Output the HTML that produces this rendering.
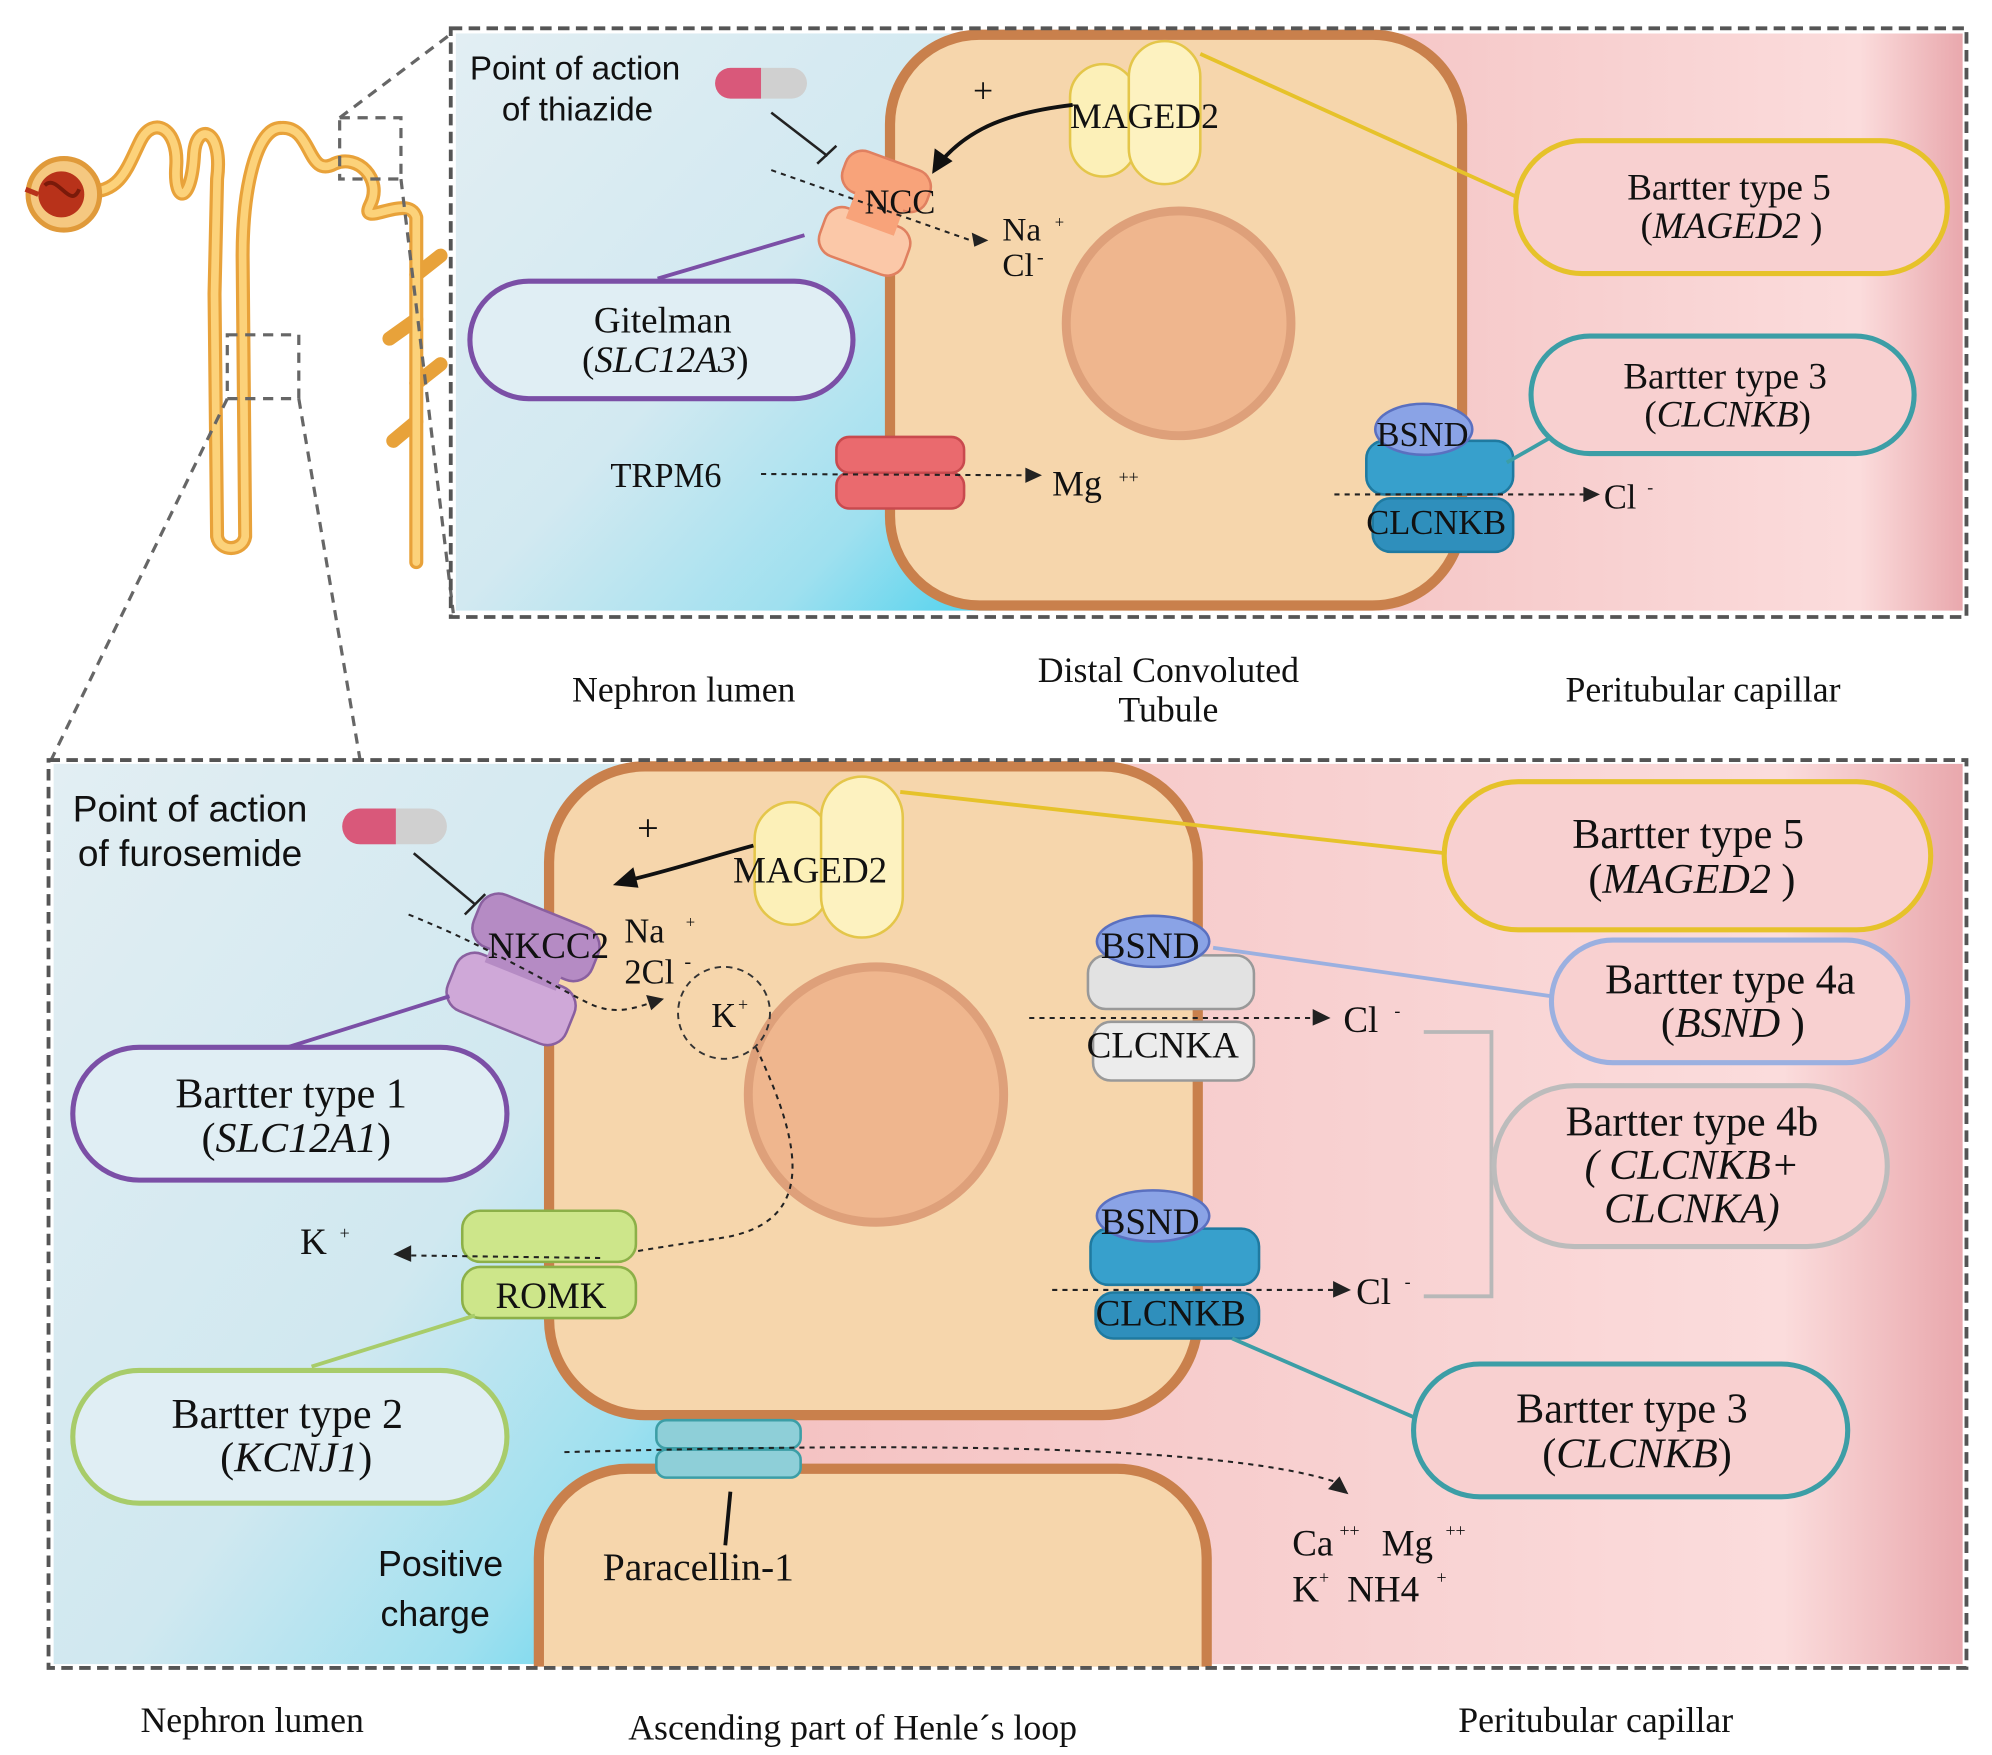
<!DOCTYPE html>
<html><head><meta charset="utf-8"><style>
html,body{margin:0;padding:0;background:#fff}
svg{display:block}
.s{font-family:"Liberation Serif",serif;fill:#111}
.a{font-family:"Liberation Sans",sans-serif;fill:#111}
</style></head><body>
<svg width="1992" height="1755" viewBox="0 0 1560 1374" xmlns="http://www.w3.org/2000/svg">
<defs>
<linearGradient id="lum1" x1="0" y1="0" x2="1" y2="1">
<stop offset="0" stop-color="#e2eef3"/><stop offset="0.5" stop-color="#d2e9f1"/><stop offset="0.8" stop-color="#9fe0ef"/><stop offset="1" stop-color="#4fd2ee"/></linearGradient>
<linearGradient id="lum2" x1="0" y1="0" x2="1" y2="1">
<stop offset="0" stop-color="#e2eef3"/><stop offset="0.55" stop-color="#d0e8f0"/><stop offset="0.8" stop-color="#9fe0ef"/><stop offset="1" stop-color="#4fd2ee"/></linearGradient>
<linearGradient id="pk" x1="0" y1="0" x2="1" y2="0">
<stop offset="0" stop-color="#f4c2c2"/><stop offset="0.85" stop-color="#fbdcdc"/><stop offset="1" stop-color="#e9a8ad"/></linearGradient>
<clipPath id="bp"><rect x="38" y="595" width="1502" height="710"/></clipPath>
</defs>

<!-- nephron -->
<g fill="none" stroke="#e8a23a" stroke-width="11" stroke-linecap="round" stroke-linejoin="round">
<path d="M70 150 C95 150 100 130 110 110 C120 90 140 100 138 130 C136 160 150 160 152 120 C154 95 175 100 170 140 L168 230 L170 420 C172 432 190 432 192 420 L190 200 C190 150 200 100 220 100 C245 98 240 140 262 128 C280 120 300 140 290 160 C280 180 320 150 326 170 L326 440"/>
<path d="M326 250 L305 265 M326 300 L345 285 M326 330 L308 345 M326 215 L345 200"/>
</g>
<g fill="none" stroke="#fcd27a" stroke-width="6" stroke-linecap="round" stroke-linejoin="round">
<path d="M70 150 C95 150 100 130 110 110 C120 90 140 100 138 130 C136 160 150 160 152 120 C154 95 175 100 170 140 L168 230 L170 420 C172 432 190 432 192 420 L190 200 C190 150 200 100 220 100 C245 98 240 140 262 128 C280 120 300 140 290 160 C280 180 320 150 326 170 L326 440"/>
</g>
<circle cx="50" cy="152" r="28" fill="#f5c880" stroke="#e09a3a" stroke-width="4"/>
<circle cx="48" cy="152" r="18" fill="#b8321a"/>
<path d="M35 145 C45 135 55 165 62 148" stroke="#7a1a0a" stroke-width="3" fill="none"/>
<line x1="20" y1="148" x2="30" y2="152" stroke="#b8321a" stroke-width="4"/>
<g fill="none" stroke="#666" stroke-width="2.5" stroke-dasharray="8 6">
<rect x="266" y="92" width="48" height="48"/>
<rect x="178" y="262" width="56" height="50"/>
<line x1="266" y1="92" x2="355" y2="25"/>
<line x1="314" y1="140" x2="355" y2="480"/>
<line x1="178" y1="312" x2="40" y2="595"/>
<line x1="234" y1="312" x2="282" y2="595"/>
</g>

<!-- TOP PANEL -->
<path d="M1000 26 H1537 V478 H1000 Z" fill="url(#pk)"/>
<rect x="357" y="26" width="420" height="452" fill="url(#lum1)"/>
<rect x="697" y="27" width="448" height="447" rx="70" fill="#f6d6ac" stroke="#c9804c" stroke-width="8"/>
<circle cx="923" cy="253" r="88" fill="#efb68e" stroke="#dea07a" stroke-width="7"/>
<rect x="353" y="22" width="1187" height="461" fill="none" stroke="#555" stroke-width="3" stroke-dasharray="9 5"/>

<text class="a" x="368" y="62" font-size="26">Point of action</text>
<text class="a" x="393" y="94" font-size="26">of thiazide</text>
<rect x="560" y="53" width="72" height="24" rx="12" fill="#d0d0d0"/>
<path d="M572 53 H596 V77 H572 A12 12 0 0 1 572 53Z" fill="#d9587a"/>
<line x1="604" y1="88" x2="648" y2="122" stroke="#222" stroke-width="2"/>
<line x1="640" y1="128" x2="655" y2="114" stroke="#222" stroke-width="2"/>

<!-- NCC -->
<g transform="rotate(20 690 168)">
<rect x="650" y="125" width="70" height="34" rx="14" fill="#f8a37a" stroke="#e08060" stroke-width="2"/>
<rect x="650" y="172" width="70" height="40" rx="14" fill="#fbc8a8" stroke="#e08060" stroke-width="2"/>
<rect x="665" y="150" width="40" height="30" fill="#f8a37a"/>
</g>
<text class="s" x="677" y="167" font-size="27">NCC</text>
<path d="M604 133 L760 188" stroke="#222" stroke-width="1.6" stroke-dasharray="4 4" fill="none"/>
<path d="M774 188 l-13 -6 l2 11z" fill="#222"/>
<text class="s" x="785" y="188" font-size="26">Na</text><text class="s" x="826" y="178" font-size="13">+</text>
<text class="s" x="785" y="216" font-size="26">Cl</text><text class="s" x="812" y="206" font-size="16">-</text>

<!-- MAGED2 top -->
<rect x="838" y="50" width="52" height="88" rx="26" fill="#fcf0b8" stroke="#e4c64a" stroke-width="2"/>
<rect x="884" y="32" width="56" height="112" rx="28" fill="#fdf2c0" stroke="#e4c64a" stroke-width="2"/>
<text class="s" x="838" y="100" font-size="28">MAGED2</text>
<text class="s" x="762" y="80" font-size="28">+</text>
<path d="M840 82 C790 88 760 100 738 125" stroke="#111" stroke-width="3" fill="none"/>
<path d="M730 136 l2 -20 l14 10z" fill="#111"/>
<line x1="940" y1="42" x2="1190" y2="155" stroke="#e6c22a" stroke-width="3"/>

<rect x="1187" y="110" width="338" height="104" rx="52" fill="#f8d0d0" stroke="#e6c22a" stroke-width="4"/>
<text class="s" x="1354" y="156" font-size="29" text-anchor="middle">Bartter type 5</text>
<text class="s" x="1356" y="186" font-size="29" text-anchor="middle">(<tspan font-style="italic">MAGED2</tspan> )</text>

<line x1="515" y1="218" x2="630" y2="184" stroke="#7b4fa6" stroke-width="3"/>
<rect x="368" y="220" width="300" height="92" rx="46" fill="#e0eef4" stroke="#7b4fa6" stroke-width="4"/>
<text class="s" x="519" y="260" font-size="29" text-anchor="middle">Gitelman</text>
<text class="s" x="521" y="291" font-size="29" text-anchor="middle">(<tspan font-style="italic">SLC12A3</tspan>)</text>

<!-- TRPM6 -->
<rect x="655" y="342" width="100" height="28" rx="10" fill="#ea6a6e" stroke="#c94a4e" stroke-width="2"/>
<rect x="655" y="370" width="100" height="28" rx="10" fill="#ea6a6e" stroke="#c94a4e" stroke-width="2"/>
<text class="s" x="478" y="381" font-size="27">TRPM6</text>
<line x1="596" y1="371" x2="804" y2="372" stroke="#222" stroke-width="1.6" stroke-dasharray="4 4"/>
<path d="M816 372 l-13 -6 v12z" fill="#222"/>
<text class="s" x="824" y="388" font-size="28">Mg</text><text class="s" x="876" y="378" font-size="14">++</text>

<!-- BSND/CLCNKB top -->
<rect x="1070" y="345" width="115" height="42" rx="14" fill="#37a0cc" stroke="#1f7aa0" stroke-width="2"/>
<rect x="1075" y="390" width="110" height="42" rx="14" fill="#2f8fbc" stroke="#1f7aa0" stroke-width="2"/>
<ellipse cx="1115" cy="336" rx="38" ry="20" fill="#8aa3e6" stroke="#5a70c0" stroke-width="2"/>
<text class="s" x="1078" y="349" font-size="27">BSND</text>
<text class="s" x="1070" y="418" font-size="27">CLCNKB</text>
<line x1="1045" y1="387" x2="1240" y2="387" stroke="#222" stroke-width="1.6" stroke-dasharray="4 4"/>
<path d="M1253 387 l-13 -6 v12z" fill="#222"/>
<text class="s" x="1256" y="398" font-size="27">Cl</text><text class="s" x="1290" y="386" font-size="14">-</text>
<line x1="1180" y1="362" x2="1215" y2="342" stroke="#3c9ea6" stroke-width="3"/>
<rect x="1199" y="263" width="300" height="92" rx="46" fill="#f8d0d0" stroke="#3c9ea6" stroke-width="4"/>
<text class="s" x="1351" y="304" font-size="29" text-anchor="middle">Bartter type 3</text>
<text class="s" x="1353" y="334" font-size="29" text-anchor="middle">(<tspan font-style="italic">CLCNKB</tspan>)</text>

<text class="s" x="448" y="549" font-size="28">Nephron lumen</text>
<text class="s" x="915" y="534" font-size="28" text-anchor="middle">Distal Convoluted</text>
<text class="s" x="915" y="565" font-size="28" text-anchor="middle">Tubule</text>
<text class="s" x="1226" y="549" font-size="28">Peritubular capillar</text>

<!-- BOTTOM PANEL -->
<g clip-path="url(#bp)">
<path d="M600 598 H1537 V1303 H600 Z" fill="url(#pk)"/>
<rect x="42" y="598" width="520" height="705" fill="url(#lum2)"/>
<rect x="430" y="600" width="508" height="508" rx="75" fill="#f6d6ac" stroke="#c9804c" stroke-width="8"/>
<path d="M422 1320 V1220 A70 70 0 0 1 492 1150 H875 A70 70 0 0 1 945 1220 V1320 Z" fill="#f6d6ac" stroke="#c9804c" stroke-width="8"/>
</g>
<circle cx="686" cy="857" r="100" fill="#efb68e" stroke="#dea07a" stroke-width="7"/>
<rect x="38" y="595" width="1502" height="711" fill="none" stroke="#555" stroke-width="3" stroke-dasharray="9 5"/>

<text class="a" x="57" y="643" font-size="29">Point of action</text>
<text class="a" x="61" y="678" font-size="29">of furosemide</text>
<rect x="268" y="633" width="82" height="28" rx="14" fill="#d0d0d0"/>
<path d="M282 633 H310 V661 H282 A14 14 0 0 1 282 633Z" fill="#d9587a"/>
<line x1="324" y1="668" x2="372" y2="708" stroke="#222" stroke-width="2"/>
<line x1="364" y1="716" x2="380" y2="700" stroke="#222" stroke-width="2"/>

<!-- NKCC2 -->
<g transform="rotate(22 410 758)">
<rect x="360" y="710" width="100" height="44" rx="16" fill="#b58bc4" stroke="#8a60a0" stroke-width="2"/>
<rect x="360" y="760" width="100" height="48" rx="16" fill="#cfa8d8" stroke="#8a60a0" stroke-width="2"/>
<rect x="380" y="745" width="60" height="20" fill="#b58bc4"/>
</g>
<text class="s" x="382" y="750" font-size="29">NKCC2</text>
<path d="M320 716 C380 740 430 770 460 785 C480 795 495 790 510 785" stroke="#222" stroke-width="1.6" stroke-dasharray="4 4" fill="none"/>
<path d="M520 782 l-14 -3 l4 12z" fill="#222"/>
<text class="s" x="489" y="738" font-size="27">Na</text><text class="s" x="537" y="726" font-size="13">+</text>
<text class="s" x="489" y="770" font-size="27">2Cl</text><text class="s" x="536" y="758" font-size="16">-</text>
<circle cx="567" cy="793" r="36" fill="none" stroke="#333" stroke-width="1.5" stroke-dasharray="5 4"/>
<text class="s" x="557" y="804" font-size="27">K</text><text class="s" x="578" y="791" font-size="14">+</text>
<path d="M592 820 C630 900 640 960 560 970 C520 976 495 980 470 985" stroke="#222" stroke-width="1.6" stroke-dasharray="4 4" fill="none"/>

<!-- MAGED2 bottom -->
<rect x="591" y="628" width="58" height="96" rx="29" fill="#fcf0b8" stroke="#e4c64a" stroke-width="2"/>
<rect x="643" y="608" width="64" height="126" rx="32" fill="#fdf2c0" stroke="#e4c64a" stroke-width="2"/>
<text class="s" x="574" y="691" font-size="29">MAGED2</text>
<text class="s" x="499" y="658" font-size="30">+</text>
<path d="M590 662 C560 670 530 680 497 688" stroke="#111" stroke-width="3" fill="none"/>
<path d="M480 693 l16 -14 l4 16z" fill="#111"/>
<line x1="705" y1="620" x2="1132" y2="668" stroke="#e6c22a" stroke-width="3"/>
<rect x="1131" y="612" width="381" height="116" rx="58" fill="#f8d0d0" stroke="#e6c22a" stroke-width="4"/>
<text class="s" x="1322" y="664" font-size="33" text-anchor="middle">Bartter type 5</text>
<text class="s" x="1325" y="699" font-size="33" text-anchor="middle">(<tspan font-style="italic">MAGED2</tspan> )</text>

<line x1="225" y1="820" x2="352" y2="780" stroke="#7b4fa6" stroke-width="3"/>
<rect x="57" y="820" width="340" height="104" rx="52" fill="#e0eef4" stroke="#7b4fa6" stroke-width="4"/>
<text class="s" x="228" y="867" font-size="33" text-anchor="middle">Bartter type 1</text>
<text class="s" x="232" y="902" font-size="33" text-anchor="middle">(<tspan font-style="italic">SLC12A1</tspan>)</text>

<!-- ROMK -->
<rect x="362" y="948" width="136" height="40" rx="14" fill="#cde68a" stroke="#8cb048" stroke-width="2"/>
<rect x="362" y="992" width="136" height="40" rx="14" fill="#cde68a" stroke="#8cb048" stroke-width="2"/>
<text class="s" x="388" y="1024" font-size="29">ROMK</text>
<line x1="470" y1="985" x2="322" y2="983" stroke="#222" stroke-width="1.6" stroke-dasharray="4 4"/>
<path d="M308 982 l14 -7 v13z" fill="#222"/>
<text class="s" x="235" y="982" font-size="29">K</text><text class="s" x="266" y="970" font-size="14">+</text>
<line x1="244" y1="1070" x2="372" y2="1030" stroke="#a8cc6a" stroke-width="3"/>
<rect x="57" y="1073" width="340" height="104" rx="52" fill="#e0eef4" stroke="#a8cc6a" stroke-width="4"/>
<text class="s" x="225" y="1118" font-size="33" text-anchor="middle">Bartter type 2</text>
<text class="s" x="232" y="1152" font-size="33" text-anchor="middle">(<tspan font-style="italic">KCNJ1</tspan>)</text>

<!-- CLCNKA -->
<rect x="852" y="748" width="130" height="42" rx="14" fill="#e2e2e2" stroke="#999" stroke-width="2"/>
<rect x="856" y="800" width="126" height="46" rx="14" fill="#ececec" stroke="#999" stroke-width="2"/>
<ellipse cx="903" cy="737" rx="44" ry="20" fill="#8aa3e6" stroke="#5a70c0" stroke-width="2"/>
<text class="s" x="862" y="750" font-size="29">BSND</text>
<text class="s" x="851" y="828" font-size="29">CLCNKA</text>
<line x1="806" y1="797" x2="1028" y2="797" stroke="#222" stroke-width="1.6" stroke-dasharray="4 4"/>
<path d="M1042 797 l-14 -7 v13z" fill="#222"/>
<text class="s" x="1052" y="808" font-size="29">Cl</text><text class="s" x="1092" y="796" font-size="14">-</text>
<line x1="950" y1="742" x2="1215" y2="780" stroke="#9bb0e0" stroke-width="3"/>
<rect x="1215" y="736" width="279" height="96" rx="48" fill="#f8d0d0" stroke="#9bb0e0" stroke-width="4"/>
<text class="s" x="1355" y="778" font-size="33" text-anchor="middle">Bartter type 4a</text>
<text class="s" x="1357" y="812" font-size="33" text-anchor="middle">(<tspan font-style="italic">BSND</tspan> )</text>

<!-- CLCNKB bottom -->
<rect x="854" y="962" width="132" height="44" rx="14" fill="#37a0cc" stroke="#1f7aa0" stroke-width="2"/>
<rect x="858" y="1012" width="128" height="36" rx="14" fill="#2f8fbc" stroke="#1f7aa0" stroke-width="2"/>
<ellipse cx="903" cy="952" rx="44" ry="20" fill="#8aa3e6" stroke="#5a70c0" stroke-width="2"/>
<text class="s" x="862" y="966" font-size="29">BSND</text>
<text class="s" x="858" y="1038" font-size="29">CLCNKB</text>
<line x1="824" y1="1010" x2="1044" y2="1010" stroke="#222" stroke-width="1.6" stroke-dasharray="4 4"/>
<path d="M1058 1010 l-14 -7 v13z" fill="#222"/>
<text class="s" x="1062" y="1021" font-size="29">Cl</text><text class="s" x="1100" y="1008" font-size="14">-</text>
<path d="M1115 808 H1168 V1015 H1115" fill="none" stroke="#b8b8b8" stroke-width="3"/>
<rect x="1170" y="850" width="308" height="126" rx="63" fill="#f8d0d0" stroke="#bcbcbc" stroke-width="4"/>
<text class="s" x="1325" y="889" font-size="33" text-anchor="middle">Bartter type 4b</text>
<text class="s" x="1325" y="923" font-size="33" text-anchor="middle" font-style="italic">( CLCNKB+</text>
<text class="s" x="1325" y="957" font-size="33" text-anchor="middle" font-style="italic">CLCNKA)</text>
<line x1="965" y1="1048" x2="1108" y2="1110" stroke="#3c9ea6" stroke-width="3"/>
<rect x="1107" y="1068" width="340" height="104" rx="52" fill="#f8d0d0" stroke="#3c9ea6" stroke-width="4"/>
<text class="s" x="1278" y="1114" font-size="33" text-anchor="middle">Bartter type 3</text>
<text class="s" x="1282" y="1149" font-size="33" text-anchor="middle">(<tspan font-style="italic">CLCNKB</tspan>)</text>

<!-- Paracellin -->
<rect x="514" y="1112" width="113" height="22" rx="8" fill="#8ecfd8" stroke="#3c9ea6" stroke-width="2"/>
<rect x="514" y="1135" width="113" height="22" rx="8" fill="#8ecfd8" stroke="#3c9ea6" stroke-width="2"/>
<path d="M442 1137 C700 1130 950 1130 1045 1160" stroke="#222" stroke-width="1.6" stroke-dasharray="4 4" fill="none"/>
<path d="M1056 1170 l-16 -4 l9 -10z" fill="#222"/>
<line x1="572" y1="1168" x2="568" y2="1210" stroke="#111" stroke-width="3"/>
<text class="s" x="472" y="1237" font-size="31">Paracellin-1</text>
<text class="a" x="296" y="1234" font-size="28">Positive</text>
<text class="a" x="298" y="1273" font-size="28">charge</text>
<text class="s" x="1012" y="1218" font-size="29">Ca</text><text class="s" x="1049" y="1203" font-size="14">++</text>
<text class="s" x="1082" y="1218" font-size="29">Mg</text><text class="s" x="1132" y="1203" font-size="14">++</text>
<text class="s" x="1012" y="1254" font-size="29">K</text><text class="s" x="1033" y="1240" font-size="14">+</text>
<text class="s" x="1055" y="1254" font-size="29">NH4</text><text class="s" x="1125" y="1240" font-size="14">+</text>

<text class="s" x="110" y="1356" font-size="28">Nephron lumen</text>
<text class="s" x="492" y="1362" font-size="28">Ascending part of Henle´s loop</text>
<text class="s" x="1142" y="1356" font-size="28">Peritubular capillar</text>
</svg>
</body></html>
